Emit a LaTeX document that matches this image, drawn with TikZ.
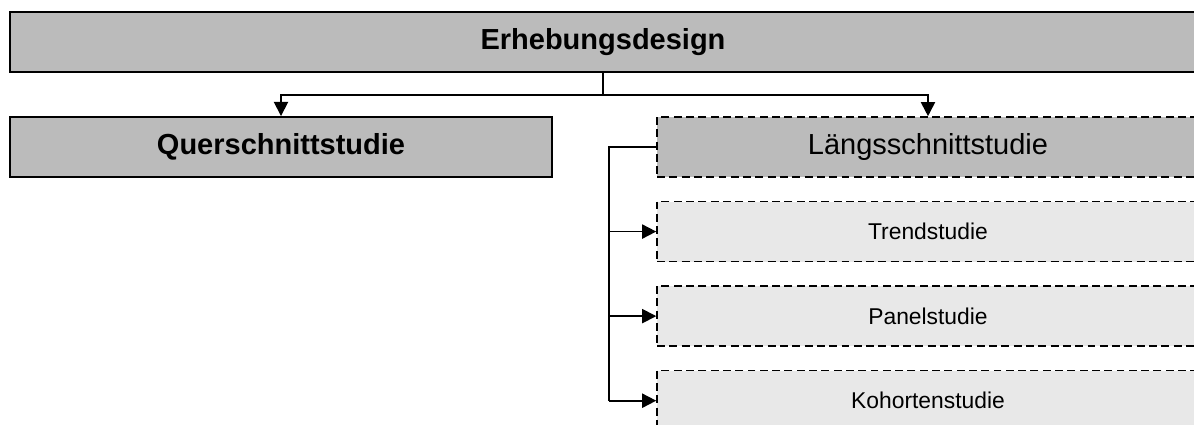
\documentclass[tikz,border=0pt]{standalone}
\usepackage{fontspec}
\setmainfont{Liberation Sans}
\usepackage{xcolor}
\usepackage{tikz}
\usetikzlibrary{positioning, arrows.meta}

\definecolor{boxdark}{HTML}{BBBBBB}
\definecolor{boxlight}{HTML}{E8E8E8}

\begin{document}
\begin{tikzpicture}[
    x=0.02cm, y=-0.02cm,
    node distance=0.46cm,
    head/.style={draw, line width=1.1pt, fill=boxdark, minimum height=1.2cm,
        font=\fontsize{16.5}{19}\selectfont\bfseries, inner sep=0pt},
    longbox/.style={draw, dashed, dash pattern=on 4.5pt off 2.5pt, line width=0.9pt,
        minimum width=10.84cm, minimum height=1.2cm, inner sep=0pt},
    subbox/.style={longbox, fill=boxlight, font=\fontsize{13}{15}\selectfont},
    link/.style={draw, line width=1pt},
    arrow/.style={link, -{Triangle[length=8pt, width=8pt]}}
]
\clip (0,0) rectangle (1194,425);
\fill[white] (0,0) rectangle (1194,425);

% Kopf und die beiden Studientypen
\node (design) [head, minimum width=23.72cm] at (603,42) {Erhebungsdesign};
\node (quer) [head, minimum width=10.84cm] at (281,147) {Querschnittstudie};
\node (laengs) [longbox, fill=boxdark, font=\fontsize{16.5}{19}\selectfont] at (928,147) {Längsschnittstudie};

% Varianten der Längsschnittstudie
\node (trend) [subbox, below=of laengs] {Trendstudie};
\node (panel) [subbox, below=of trend] {Panelstudie};
\node (kohorte) [subbox, below=of panel] {Kohortenstudie};

% Verzweigung unter dem Kopf
\coordinate (split) at (603,95);
\draw[link] (design.south) -- (split);
\draw[arrow] (split) -| (quer.north);
\draw[arrow] (split) -| (laengs.north);

% Leiste links neben den Varianten
\coordinate (trunk) at (609,147);
\draw[link] (laengs.west) -- (trunk) -- (trunk |- kohorte.west);
\draw[arrow] (trunk |- trend.west) -- (trend.west);
\draw[arrow] (trunk |- panel.west) -- (panel.west);
\draw[arrow] (trunk |- kohorte.west) -- (kohorte.west);
\end{tikzpicture}
\end{document}
